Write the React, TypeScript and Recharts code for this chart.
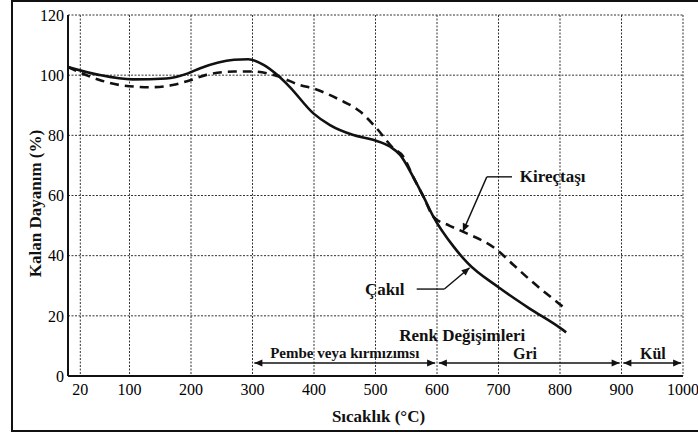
import React from 'react';
import {
  ComposedChart,
  Line,
  XAxis,
  YAxis,
  CartesianGrid,
  ReferenceLine,
  ReferenceDot,
} from 'recharts';

// ---- data ----
const xTicks = [20, 100, 200, 300, 400, 500, 600, 700, 800, 900, 1000];
const yTicks = [0, 20, 40, 60, 80, 100, 120];

const cakilTemp = [0, 50, 105, 160, 195, 215, 270, 293, 318, 340, 360, 399, 426, 464, 496, 524, 540, 561, 578, 594, 627, 650, 700, 750, 800, 810];
const cakilVal = [102.7, 100.1, 98.6, 98.9, 100.6, 102.3, 105.1, 105.3, 103.4, 100.1, 96.2, 87.3, 83.4, 80.1, 78.5, 76.2, 73.5, 66.3, 59.6, 53, 43, 37.5, 29.5, 22.5, 16, 14.5];

const kirTemp = [0, 50, 85, 133, 170, 200, 225, 270, 300, 340, 377, 400, 442, 475, 502, 529, 545, 561, 578, 594, 620, 642, 697, 724, 751, 797, 805];
const kirVal = [102.7, 98.5, 96.7, 96.0, 96.7, 98.4, 100.1, 101.2, 101.2, 99.7, 96.7, 95.5, 91.8, 87.9, 82.3, 75.7, 73.0, 66.3, 59.6, 53, 50, 48, 42, 37, 32, 24.3, 23];

const zoneNames = ['Pembe veya kırmızımsı', 'Gri', 'Kül'];
const zoneStart = [300, 600, 900];
const zoneEnd = [600, 900, 1000];
const zoneLabelX = [450, 743, 951];
const zoneLabelY = 7.6;
const zoneArrowY = 4.3;

const cakilData = cakilTemp.map((t, i) => ({ t, v: cakilVal[i] }));
const kirData = kirTemp.map((t, i) => ({ t, v: kirVal[i] }));

const INK = '#111';
const SERIF = 'Liberation Serif';

const head = (x: number, y: number, ang: number, key: string) => {
  const L = 8;
  const W = 3.5;
  const bx = x - L * Math.cos(ang);
  const by = y - L * Math.sin(ang);
  const px = -Math.sin(ang) * W;
  const py = Math.cos(ang) * W;
  return (
    <polygon
      key={key}
      points={`${x},${y} ${bx + px},${by + py} ${bx - px},${by - py}`}
      fill={INK}
    />
  );
};

const arrowShape = (startHead: boolean, endHead: boolean) => (p: any) => {
  const { x1, y1, x2, y2 } = p;
  const ang = Math.atan2(y2 - y1, x2 - x1);
  return (
    <g>
      <line x1={x1} y1={y1} x2={x2} y2={y2} stroke={INK} strokeWidth={1.4} />
      {startHead ? head(x1, y1, ang + Math.PI, 's') : null}
      {endHead ? head(x2, y2, ang, 'e') : null}
    </g>
  );
};

const noteLabel = (value: string, size: number) => ({
  value,
  position: 'center' as const,
  fontSize: size,
  fontWeight: 'bold',
  fill: INK,
  fontFamily: SERIF,
});

const tickStyle = { fontSize: 16, fill: '#000', fontFamily: SERIF };

export default function App() {
  return (
    <div
      style={{
        position: 'absolute',
        left: 0,
        top: 0,
        width: 698,
        height: 433,
        background: '#fff',
      }}
    >
      <div
        style={{
          position: 'absolute',
          left: 11,
          top: 0,
          width: 687,
          height: 432,
          boxSizing: 'border-box',
          borderLeft: '2px solid #111',
          borderTop: '2px solid #111',
          borderBottom: '2px solid #111',
        }}
      />
      <div style={{ position: 'absolute', left: 0, top: 0 }}>
        <ComposedChart
          width={698}
          height={433}
          margin={{ top: 15, right: 15, bottom: 27, left: 28 }}
        >
          <CartesianGrid stroke="#333" strokeDasharray="2 1.5" strokeWidth={1} />
          <XAxis
            dataKey="t"
            type="number"
            domain={[0, 1000]}
            ticks={xTicks}
            interval={0}
            tickLine={false}
            height={30}
            axisLine={{ stroke: INK, strokeWidth: 2 }}
            tick={tickStyle}
            allowDataOverflow
            label={{
              value: 'Sıcaklık (°C)',
              position: 'bottom',
              offset: 4,
              fontSize: 17,
              fontWeight: 'bold',
              fill: INK,
              dx: 3,
              fontFamily: SERIF,
            }}
          />
          <YAxis
            type="number"
            domain={[0, 120]}
            ticks={yTicks}
            interval={0}
            width={40}
            tickLine={false}
            tickSize={2}
            tickMargin={2}
            axisLine={{ stroke: INK, strokeWidth: 2 }}
            tick={tickStyle}
            label={{
              value: 'Kalan Dayanım (%)',
              angle: -90,
              position: 'insideLeft',
              offset: 7,
              dy: 8,
              fontSize: 17,
              fontWeight: 'bold',
              fill: INK,
              fontFamily: SERIF,
              style: { textAnchor: 'middle' },
            }}
          />

          <Line
            data={kirData}
            dataKey="v"
            type="monotone"
            stroke={INK}
            strokeWidth={2.6}
            strokeDasharray="9 6"
            dot={false}
            activeDot={false}
            isAnimationActive={false}
          />
          <Line
            data={cakilData}
            dataKey="v"
            type="monotone"
            stroke={INK}
            strokeWidth={2.6}
            dot={false}
            activeDot={false}
            isAnimationActive={false}
          />

          {zoneNames.map((name, i) => (
            <ReferenceLine
              key={'za' + i}
              segment={[
                { x: zoneStart[i] + 3, y: zoneArrowY },
                { x: zoneEnd[i] - 3, y: zoneArrowY },
              ]}
              shape={arrowShape(true, true)}
            />
          ))}
          {zoneNames.map((name, i) => (
            <ReferenceDot
              key={'zl' + i}
              x={zoneLabelX[i]}
              y={zoneLabelY}
              r={0}
              fill="none"
              stroke="none"
              label={noteLabel(name, i === 0 ? 15 : 16)}
            />
          ))}
          <ReferenceDot x={641} y={13.6} r={0} fill="none" stroke="none" label={noteLabel('Renk Değişimleri', 17)} />

          {/* Kireçtaşı leader */}
          <ReferenceLine segment={[{ x: 722, y: 66.2 }, { x: 681, y: 66.2 }]} shape={arrowShape(false, false)} />
          <ReferenceLine segment={[{ x: 681, y: 66.2 }, { x: 642, y: 48 }]} shape={arrowShape(false, true)} />
          <ReferenceDot x={788} y={66.5} r={0} fill="none" stroke="none" label={noteLabel('Kireçtaşı', 17)} />

          {/* Çakıl leader */}
          <ReferenceLine segment={[{ x: 567, y: 28.9 }, { x: 612, y: 28.9 }]} shape={arrowShape(false, false)} />
          <ReferenceLine segment={[{ x: 612, y: 28.9 }, { x: 653, y: 36 }]} shape={arrowShape(false, true)} />
          <ReferenceDot x={515} y={28.9} r={0} fill="none" stroke="none" label={noteLabel('Çakıl', 17)} />
        </ComposedChart>
      </div>
    </div>
  );
}
